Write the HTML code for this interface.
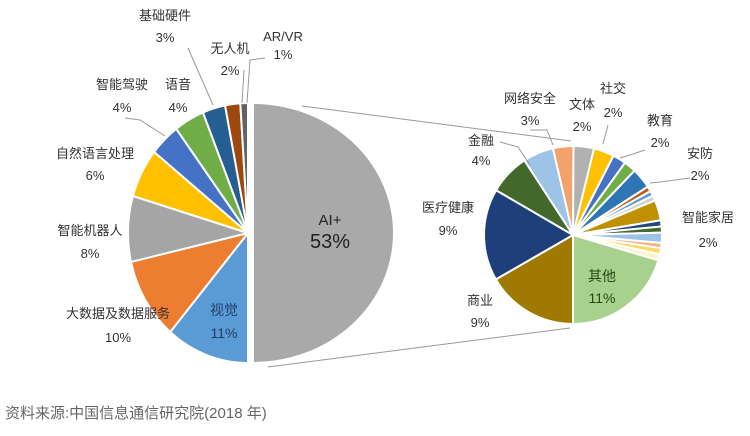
<!DOCTYPE html>
<html><head><meta charset="utf-8">
<style>
html,body{margin:0;padding:0;background:#fff;}
body{width:750px;height:431px;overflow:hidden;}
svg text{font-family:"Liberation Sans","Noto Sans CJK SC",sans-serif;fill:#333;font-size:13px;text-anchor:middle;}
</style></head><body>
<svg id="s" width="750" height="431" viewBox="0 0 750 431" xmlns="http://www.w3.org/2000/svg">
<g id="left"></g>
<g id="right"></g>
<g stroke="#999" stroke-width="1" fill="none">
<polyline points="302,106 571,141"/>
<polyline points="268,367 570,328"/>
<polyline points="188,48 213,105"/>
<polyline points="244,70 242,103"/>
<polyline points="265,58 250,60 247,103"/>
<polyline points="125,118 140,120 165,136"/>
<polyline points="500,142 518,147 530,165"/>
<polyline points="530,130 547,130 553,145"/>
<polyline points="608,125 603,144"/>
<polyline points="645,150 630,155 620,158"/>
<polyline points="690,178 660,182 650,183"/>
</g>
<text x="165" y="20">基础硬件</text><text x="165" y="42">3%</text>
<text x="230" y="53">无人机</text><text x="230" y="75">2%</text>
<text x="283" y="41">AR/VR</text><text x="283" y="59">1%</text>
<text x="122" y="89">智能驾驶</text><text x="122" y="112">4%</text>
<text x="178" y="89">语音</text><text x="178" y="112">4%</text>
<text x="95" y="158">自然语言处理</text><text x="95" y="180">6%</text>
<text x="90" y="235">智能机器人</text><text x="90" y="258">8%</text>
<text x="118" y="318">大数据及数据服务</text><text x="118" y="342">10%</text>
<text x="224" y="315" style="fill:#1f3f6a;font-size:14px">视觉</text><text x="224" y="338" style="fill:#1f3f6a;font-size:14px">11%</text>
<text x="330" y="225" style="font-size:15px;fill:#222">AI+</text><text x="330" y="248" style="font-size:20px;fill:#222">53%</text>
<text x="530" y="103">网络安全</text><text x="530" y="125">3%</text>
<text x="582" y="109">文体</text><text x="582" y="131">2%</text>
<text x="613" y="93">社交</text><text x="613" y="117">2%</text>
<text x="660" y="125">教育</text><text x="660" y="147">2%</text>
<text x="700" y="158">安防</text><text x="700" y="180">2%</text>
<text x="708" y="222">智能家居</text><text x="708" y="247">2%</text>
<text x="481" y="145">金融</text><text x="481" y="165">4%</text>
<text x="448" y="212">医疗健康</text><text x="448" y="235">9%</text>
<text x="480" y="305">商业</text><text x="480" y="327">9%</text>
<text x="602" y="281" style="fill:#244a12;font-size:14px">其他</text><text x="602" y="303" style="fill:#244a12;font-size:14px">11%</text>
<text x="5" y="418" style="text-anchor:start;font-size:15px;fill:#666">资料来源:中国信息通信研究院(2018 年)</text>
</svg>
<script>
function arc(cx,cy,r,a0,a1,fill,sx){
  function p(a){var t=a*Math.PI/180;return [cx+r*Math.sin(t)*sx, cy-r*Math.cos(t)];}
  var A=p(a0),B=p(a1),large=(a1-a0)>180?1:0;
  return '<path d="M'+cx+','+cy+' L'+A[0].toFixed(2)+','+A[1].toFixed(2)+' A'+(r*sx)+','+r+' 0 '+large+' 1 '+B[0].toFixed(2)+','+B[1].toFixed(2)+' Z" fill="'+fill+'" stroke="#fff" stroke-width="2"/>';
}
var L='';
L+=arc(253,233,130,0,180,'#a9a9a9',141/130);
var ls=[[11,'#5b9bd5'],[10,'#ed7d31'],[8,'#a5a5a5'],[6,'#ffc000'],[4,'#4472c4'],[4,'#70ad47'],[3,'#255e91'],[2,'#9e480e'],[1,'#636363']];
var a=180;ls.forEach(function(s){var b=a+s[0]*180/49;L+=arc(248,233,130,a,b,s[1],120/130);a=b;});
document.getElementById('left').innerHTML=L;
var R='';
var rs=[[9,'#a07a00'],[9,'#1f3f7a'],[4,'#43682b'],[3,'#9dc3e6'],[2,'#f4a26b'],[2,'#b0b0b0'],[2,'#ffc000'],
[1.3,'#4472c4'],[1.2,'#70ad47'],[2,'#2e75b6'],[0.5,'#c55a11'],[0.5,'#5b9bd5'],[0.5,'#d0d0d0'],[2,'#bf9000'],[0.6,'#264478'],[0.6,'#43682b'],[1,'#9dc3e6'],[0.5,'#f4b183'],[0.6,'#ffd966'],[0.6,'#fff2cc'],[11,'#a9d18e']];
var tot=0;rs.forEach(function(s){tot+=s[0];});
a=180;rs.forEach(function(s){var b=a+s[0]*360/tot;R+=arc(573,235,89,a,b,s[1],1);a=b;});
document.getElementById('right').innerHTML=R;
</script>
</body></html>
